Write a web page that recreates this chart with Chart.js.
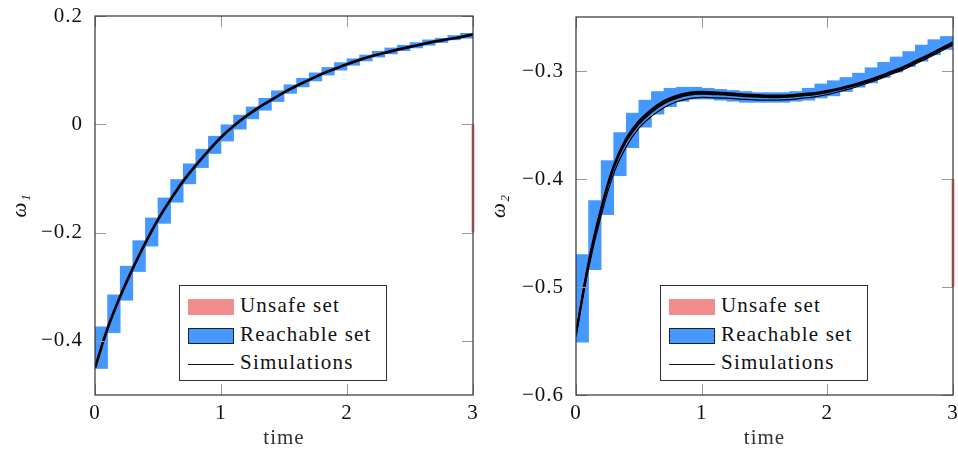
<!DOCTYPE html>
<html>
<head>
<meta charset="utf-8">
<script src="https://cdn.jsdelivr.net/npm/chart.js@4.4.1/dist/chart.umd.min.js"></script>
<style>
  html, body { margin: 0; padding: 0; background: #fff; }
  #wrap { position: relative; width: 958px; height: 453px; overflow: hidden; }
  canvas { position: absolute; top: 0; }
  .legend {
    position: absolute; width: 208px; height: 96px; border: 1px solid #333;
    background: #fff; box-sizing: border-box;
    font-family: 'Liberation Serif', 'DejaVu Serif', serif; font-size: 21px; letter-spacing: 1.2px; color: #111;
  }
  .legend .row { position: absolute; left: 8px; height: 24px; line-height: 24px; white-space: nowrap; }
  .legend .sw { display: inline-block; width: 46px; height: 16px; vertical-align: middle; margin-right: 6px; box-sizing: border-box; }
  .legend .unsafe { background: #f08d8f; }
  .legend .reach { background: #4598ff; border: 1px solid #222; }
  .legend .sim { height: 1px; background: #111; }
</style>
</head>
<body>
<div id="wrap">
  <canvas id="c1" width="479" height="453" style="left:0"></canvas>
  <canvas id="c2" width="479" height="453" style="left:479px"></canvas>
  <div class="legend" style="left:179px; top:285px">
    <div class="row" style="top:7px"><span class="sw unsafe"></span>Unsafe set</div>
    <div class="row" style="top:36px"><span class="sw reach"></span>Reachable set</div>
    <div class="row" style="top:64px"><span class="sw sim"></span>Simulations</div>
  </div>
  <div class="legend" style="left:660px; top:285px">
    <div class="row" style="top:7px"><span class="sw unsafe"></span>Unsafe set</div>
    <div class="row" style="top:36px"><span class="sw reach"></span>Reachable set</div>
    <div class="row" style="top:64px"><span class="sw sim"></span>Simulations</div>
  </div>
</div>
<script>
// sample times of the simulations, step 0.1
const times = [0, 0.1, 0.2, 0.3, 0.4, 0.5, 0.6, 0.7, 0.8, 0.9, 1.0, 1.1, 1.2, 1.3, 1.4, 1.5,
  1.6, 1.7, 1.8, 1.9, 2.0, 2.1, 2.2, 2.3, 2.4, 2.5, 2.6, 2.7, 2.8, 2.9, 3.0];
const xTicks = [0, 1, 2, 3];

// omega_1: reachable boxes per time step [lo, hi]
const w1Lo = [-0.451, -0.385, -0.325, -0.272, -0.225, -0.183, -0.144, -0.110, -0.080, -0.054,
  -0.031, -0.009, 0.010, 0.026, 0.042, 0.057, 0.069, 0.080, 0.091, 0.100,
  0.109, 0.117, 0.124, 0.130, 0.136, 0.141, 0.146, 0.151, 0.156, 0.159];
const w1Hi = [-0.374, -0.315, -0.262, -0.215, -0.173, -0.136, -0.102, -0.073, -0.046, -0.022,
  -0.001, 0.017, 0.032, 0.048, 0.062, 0.073, 0.085, 0.095, 0.105, 0.114,
  0.121, 0.128, 0.135, 0.141, 0.146, 0.151, 0.156, 0.159, 0.164, 0.168];
const w1Sim = [-0.450, -0.377, -0.318, -0.266, -0.219, -0.176, -0.139, -0.105, -0.076, -0.049,
  -0.024, -0.003, 0.015, 0.031, 0.045, 0.059, 0.071, 0.082, 0.093, 0.102,
  0.111, 0.119, 0.126, 0.132, 0.138, 0.143, 0.148, 0.153, 0.157, 0.161, 0.166];
const w1Unsafe = [0, -0.2];
const w1Ticks = [-0.4, -0.2, 0, 0.2];

// omega_2
const w2Lo = [-0.551, -0.484, -0.433, -0.397, -0.371, -0.352, -0.340, -0.333, -0.328, -0.326,
  -0.326, -0.327, -0.328, -0.329, -0.329, -0.329, -0.329, -0.328, -0.327, -0.325,
  -0.323, -0.319, -0.315, -0.311, -0.306, -0.301, -0.296, -0.291, -0.285, -0.280];
const w2Hi = [-0.470, -0.420, -0.383, -0.357, -0.339, -0.327, -0.319, -0.316, -0.315, -0.315,
  -0.316, -0.317, -0.318, -0.319, -0.320, -0.320, -0.320, -0.319, -0.316, -0.312,
  -0.309, -0.306, -0.302, -0.297, -0.292, -0.287, -0.282, -0.276, -0.271, -0.268];
const w2SimA = [-0.542, -0.476, -0.426, -0.387, -0.362, -0.346, -0.3355, -0.3276, -0.3228, -0.3200,
  -0.3190, -0.3195, -0.3201, -0.3211, -0.3219, -0.3224, -0.3226, -0.3223, -0.3211, -0.3201,
  -0.3181, -0.3157, -0.3127, -0.3093, -0.3053, -0.3008, -0.2962, -0.2907, -0.2852, -0.2792, -0.2732];
const w2SimB = [-0.543, -0.478, -0.428, -0.389, -0.364, -0.348, -0.337, -0.329, -0.324, -0.321,
  -0.320, -0.3205, -0.321, -0.322, -0.3228, -0.3233, -0.3235, -0.3232, -0.322, -0.321,
  -0.319, -0.3165, -0.3135, -0.310, -0.306, -0.3015, -0.297, -0.2915, -0.286, -0.280, -0.274];
const w2SimC = [-0.544, -0.479, -0.429, -0.390, -0.3652, -0.3492, -0.3382, -0.3302, -0.3252, -0.3222,
  -0.3212, -0.3216, -0.3221, -0.3231, -0.3238, -0.3243, -0.3245, -0.3241, -0.3229, -0.3218,
  -0.3198, -0.3172, -0.3142, -0.3107, -0.3067, -0.3022, -0.2977, -0.2922, -0.2867, -0.2807, -0.2747];
const w2SimD = [-0.546, -0.483, -0.434, -0.395, -0.370, -0.353, -0.342, -0.334, -0.3285, -0.3255,
  -0.3245, -0.3248, -0.3252, -0.326, -0.3266, -0.327, -0.327, -0.3265, -0.3252, -0.324,
  -0.3218, -0.319, -0.3158, -0.312, -0.308, -0.3035, -0.299, -0.2935, -0.288, -0.282, -0.276];
const w2Unsafe = [-0.4, -0.5];
const w2Ticks = [-0.6, -0.5, -0.4, -0.3];

const BLUE = '#4598ff';
const RED = '#f08d8f';
const FONT = { family: "'Liberation Serif', 'DejaVu Serif', serif", size: 21 };

const boxes = (lo, hi) => lo.map((v, i) => ({ x: (times[i] + times[i + 1]) / 2, y: [v, hi[i]] }));
const series = vals => vals.map((v, i) => ({ x: times[i], y: v }));
const fmt = v => v === 0 ? '0' : (v < 0 ? '\u2212' : '') + Math.abs(v).toFixed(1);

// axis frame with inward tick marks on all four sides
const frameTicks = {
  id: 'frameTicks',
  beforeDraw(chart) {
    chart.ctx.letterSpacing = '1px';
  },
  afterDatasetsDraw(chart) {
    const { ctx, chartArea: a, scales: { x, y } } = chart;
    const len = 11;
    ctx.save();
    ctx.strokeStyle = '#9a9a9a';
    ctx.lineWidth = 1;
    ctx.beginPath();
    x.ticks.forEach(t => {
      const px = Math.round(x.getPixelForValue(t.value)) + 0.5;
      ctx.moveTo(px, a.bottom); ctx.lineTo(px, a.bottom - len);
      ctx.moveTo(px, a.top); ctx.lineTo(px, a.top + len);
    });
    y.ticks.forEach(t => {
      const py = Math.round(y.getPixelForValue(t.value)) + 0.5;
      ctx.moveTo(a.left, py); ctx.lineTo(a.left + len, py);
      ctx.moveTo(a.right, py); ctx.lineTo(a.right - len, py);
    });
    ctx.stroke();
    ctx.strokeStyle = '#333';
    ctx.lineWidth = 1.2;
    ctx.strokeRect(a.left, a.top, a.width, a.height);
    ctx.restore();
  }
};

function panel(id, p) {
  const sims = p.sims.map((s, i) => ({
    type: 'line', data: series(s), borderColor: '#000', borderWidth: p.simWidth[i],
    pointRadius: 0, tension: 0.4, order: 0
  }));
  return new Chart(document.getElementById(id), {
    type: 'bar',
    data: {
      datasets: [
        ...sims,
        { type: 'line', data: p.unsafe.map(v => ({ x: 3, y: v })), borderColor: RED, borderWidth: 3,
          pointRadius: 0, clip: false, order: 1 },
        { type: 'bar', data: boxes(p.lo, p.hi), backgroundColor: BLUE, borderWidth: 0,
          barPercentage: 1, categoryPercentage: 1, order: 2 }
      ]
    },
    options: {
      responsive: false,
      animation: false,
      layout: { padding: { left: 0, right: p.padRight, top: p.padTop, bottom: 0 } },
      plugins: { legend: { display: false }, tooltip: { enabled: false } },
      scales: {
        x: {
          type: 'linear', min: 0, max: 3, offset: false,
          grid: { display: false, drawTicks: false }, border: { display: false },
          afterBuildTicks: s => { s.ticks = xTicks.map(v => ({ value: v })); },
          ticks: { font: FONT, color: '#111', padding: 6, maxRotation: 0, callback: v => String(v) },
          title: { display: true, text: 'time', font: FONT, color: '#333', padding: { top: 0, bottom: 2 } },
          afterFit: s => { s.height = 58; s.paddingLeft = 0; s.paddingRight = 0; }
        },
        y: {
          type: 'linear', min: p.yMin, max: p.yMax,
          grid: { display: false, drawTicks: false }, border: { display: false },
          afterBuildTicks: s => { s.ticks = p.yTicks.map(v => ({ value: v })); },
          ticks: { font: FONT, color: '#111', padding: 12, callback: fmt },
          title: { display: true, text: p.yTitle, font: { ...FONT, style: 'italic' }, color: '#111', padding: { top: 8, bottom: 0 } },
          afterFit: s => { s.width = p.axisLeft; s.paddingTop = 0; s.paddingBottom = 0; }
        }
      }
    },
    plugins: [frameTicks]
  });
}

panel('c1', {
  lo: w1Lo, hi: w1Hi, sims: [w1Sim], simWidth: [2.7], unsafe: w1Unsafe,
  yMin: -0.5, yMax: 0.2, yTicks: w1Ticks, yTitle: 'ω₁',
  axisLeft: 95, padRight: 6, padTop: 16
});
panel('c2', {
  lo: w2Lo, hi: w2Hi, sims: [w2SimA, w2SimB, w2SimC, w2SimD], simWidth: [1.6, 1.6, 1.6, 1.2], unsafe: w2Unsafe,
  yMin: -0.6, yMax: -0.25, yTicks: w2Ticks, yTitle: 'ω₂',
  axisLeft: 97, padRight: 5, padTop: 17
});
</script>
</body>
</html>
